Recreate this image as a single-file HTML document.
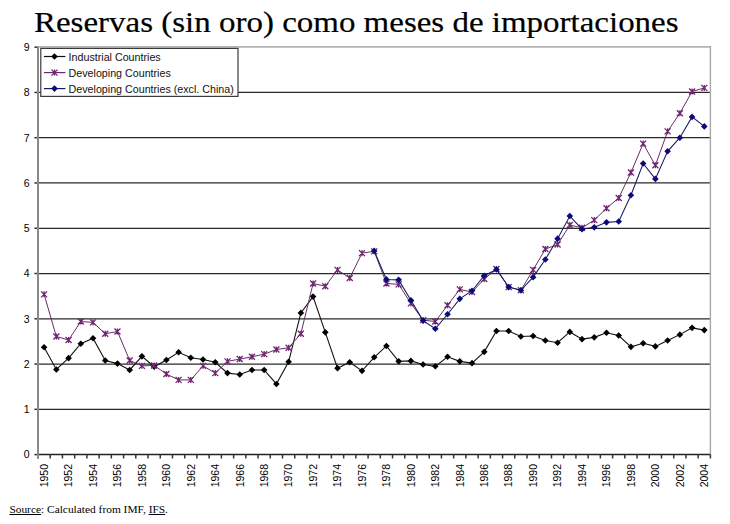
<!DOCTYPE html>
<html><head><meta charset="utf-8">
<style>
html,body{margin:0;padding:0;background:#fff;}
body{width:730px;height:524px;overflow:hidden;position:relative;}
svg{position:absolute;left:0;top:0;}
.ax{font-family:"Liberation Sans",sans-serif;font-size:10.5px;fill:#000;}
.lg{font-family:"Liberation Sans",sans-serif;font-size:10.7px;fill:#111;}
.title{position:absolute;left:34.1px;top:1.6px;font-family:"Liberation Serif",serif;font-size:30px;line-height:40px;color:#000;white-space:nowrap;transform-origin:0 0;transform:scaleX(1.099);-webkit-text-stroke:0.2px #000;}
.src{position:absolute;left:9.4px;top:500.7px;font-family:"Liberation Serif",serif;font-size:11.4px;line-height:16px;color:#000;white-space:nowrap;}
.src u{text-decoration:underline;}
</style></head><body>
<div class="title">Reservas (sin oro) como meses de importaciones</div>
<svg width="730" height="524" viewBox="0 0 730 524">
<line x1="38" y1="409.33" x2="710.4" y2="409.33" stroke="#2a2a2a" stroke-width="1.25"/>
<line x1="38" y1="364.06" x2="710.4" y2="364.06" stroke="#2a2a2a" stroke-width="1.25"/>
<line x1="38" y1="318.79" x2="710.4" y2="318.79" stroke="#2a2a2a" stroke-width="1.25"/>
<line x1="38" y1="273.52" x2="710.4" y2="273.52" stroke="#2a2a2a" stroke-width="1.25"/>
<line x1="38" y1="228.25" x2="710.4" y2="228.25" stroke="#2a2a2a" stroke-width="1.25"/>
<line x1="38" y1="182.98" x2="710.4" y2="182.98" stroke="#2a2a2a" stroke-width="1.25"/>
<line x1="38" y1="137.71" x2="710.4" y2="137.71" stroke="#2a2a2a" stroke-width="1.25"/>
<line x1="38" y1="92.44" x2="710.4" y2="92.44" stroke="#2a2a2a" stroke-width="1.25"/>
<line x1="38" y1="46.8" x2="710.4" y2="46.8" stroke="#b4b4b4" stroke-width="1.7"/>
<line x1="710.4" y1="46" x2="710.4" y2="454.6" stroke="#a8a8a8" stroke-width="1.4"/>
<line x1="34.4" y1="454.6" x2="38" y2="454.6" stroke="#333" stroke-width="1.5"/>
<line x1="34.4" y1="409.33" x2="38" y2="409.33" stroke="#333" stroke-width="1.5"/>
<line x1="34.4" y1="364.06" x2="38" y2="364.06" stroke="#333" stroke-width="1.5"/>
<line x1="34.4" y1="318.79" x2="38" y2="318.79" stroke="#333" stroke-width="1.5"/>
<line x1="34.4" y1="273.52" x2="38" y2="273.52" stroke="#333" stroke-width="1.5"/>
<line x1="34.4" y1="228.25" x2="38" y2="228.25" stroke="#333" stroke-width="1.5"/>
<line x1="34.4" y1="182.98" x2="38" y2="182.98" stroke="#333" stroke-width="1.5"/>
<line x1="34.4" y1="137.71" x2="38" y2="137.71" stroke="#333" stroke-width="1.5"/>
<line x1="34.4" y1="92.44" x2="38" y2="92.44" stroke="#333" stroke-width="1.5"/>
<line x1="34.4" y1="47.17" x2="38" y2="47.17" stroke="#333" stroke-width="1.5"/>
<line x1="38" y1="454.6" x2="710.4" y2="454.6" stroke="#222" stroke-width="1.5"/>
<line x1="38" y1="454.6" x2="38" y2="458.5" stroke="#333" stroke-width="1.5"/>
<line x1="50.23" y1="454.6" x2="50.23" y2="458.5" stroke="#333" stroke-width="1.5"/>
<line x1="62.45" y1="454.6" x2="62.45" y2="458.5" stroke="#333" stroke-width="1.5"/>
<line x1="74.68" y1="454.6" x2="74.68" y2="458.5" stroke="#333" stroke-width="1.5"/>
<line x1="86.9" y1="454.6" x2="86.9" y2="458.5" stroke="#333" stroke-width="1.5"/>
<line x1="99.13" y1="454.6" x2="99.13" y2="458.5" stroke="#333" stroke-width="1.5"/>
<line x1="111.35" y1="454.6" x2="111.35" y2="458.5" stroke="#333" stroke-width="1.5"/>
<line x1="123.58" y1="454.6" x2="123.58" y2="458.5" stroke="#333" stroke-width="1.5"/>
<line x1="135.8" y1="454.6" x2="135.8" y2="458.5" stroke="#333" stroke-width="1.5"/>
<line x1="148.03" y1="454.6" x2="148.03" y2="458.5" stroke="#333" stroke-width="1.5"/>
<line x1="160.25" y1="454.6" x2="160.25" y2="458.5" stroke="#333" stroke-width="1.5"/>
<line x1="172.48" y1="454.6" x2="172.48" y2="458.5" stroke="#333" stroke-width="1.5"/>
<line x1="184.71" y1="454.6" x2="184.71" y2="458.5" stroke="#333" stroke-width="1.5"/>
<line x1="196.93" y1="454.6" x2="196.93" y2="458.5" stroke="#333" stroke-width="1.5"/>
<line x1="209.16" y1="454.6" x2="209.16" y2="458.5" stroke="#333" stroke-width="1.5"/>
<line x1="221.38" y1="454.6" x2="221.38" y2="458.5" stroke="#333" stroke-width="1.5"/>
<line x1="233.61" y1="454.6" x2="233.61" y2="458.5" stroke="#333" stroke-width="1.5"/>
<line x1="245.83" y1="454.6" x2="245.83" y2="458.5" stroke="#333" stroke-width="1.5"/>
<line x1="258.06" y1="454.6" x2="258.06" y2="458.5" stroke="#333" stroke-width="1.5"/>
<line x1="270.28" y1="454.6" x2="270.28" y2="458.5" stroke="#333" stroke-width="1.5"/>
<line x1="282.51" y1="454.6" x2="282.51" y2="458.5" stroke="#333" stroke-width="1.5"/>
<line x1="294.73" y1="454.6" x2="294.73" y2="458.5" stroke="#333" stroke-width="1.5"/>
<line x1="306.96" y1="454.6" x2="306.96" y2="458.5" stroke="#333" stroke-width="1.5"/>
<line x1="319.19" y1="454.6" x2="319.19" y2="458.5" stroke="#333" stroke-width="1.5"/>
<line x1="331.41" y1="454.6" x2="331.41" y2="458.5" stroke="#333" stroke-width="1.5"/>
<line x1="343.64" y1="454.6" x2="343.64" y2="458.5" stroke="#333" stroke-width="1.5"/>
<line x1="355.86" y1="454.6" x2="355.86" y2="458.5" stroke="#333" stroke-width="1.5"/>
<line x1="368.09" y1="454.6" x2="368.09" y2="458.5" stroke="#333" stroke-width="1.5"/>
<line x1="380.31" y1="454.6" x2="380.31" y2="458.5" stroke="#333" stroke-width="1.5"/>
<line x1="392.54" y1="454.6" x2="392.54" y2="458.5" stroke="#333" stroke-width="1.5"/>
<line x1="404.76" y1="454.6" x2="404.76" y2="458.5" stroke="#333" stroke-width="1.5"/>
<line x1="416.99" y1="454.6" x2="416.99" y2="458.5" stroke="#333" stroke-width="1.5"/>
<line x1="429.21" y1="454.6" x2="429.21" y2="458.5" stroke="#333" stroke-width="1.5"/>
<line x1="441.44" y1="454.6" x2="441.44" y2="458.5" stroke="#333" stroke-width="1.5"/>
<line x1="453.67" y1="454.6" x2="453.67" y2="458.5" stroke="#333" stroke-width="1.5"/>
<line x1="465.89" y1="454.6" x2="465.89" y2="458.5" stroke="#333" stroke-width="1.5"/>
<line x1="478.12" y1="454.6" x2="478.12" y2="458.5" stroke="#333" stroke-width="1.5"/>
<line x1="490.34" y1="454.6" x2="490.34" y2="458.5" stroke="#333" stroke-width="1.5"/>
<line x1="502.57" y1="454.6" x2="502.57" y2="458.5" stroke="#333" stroke-width="1.5"/>
<line x1="514.79" y1="454.6" x2="514.79" y2="458.5" stroke="#333" stroke-width="1.5"/>
<line x1="527.02" y1="454.6" x2="527.02" y2="458.5" stroke="#333" stroke-width="1.5"/>
<line x1="539.24" y1="454.6" x2="539.24" y2="458.5" stroke="#333" stroke-width="1.5"/>
<line x1="551.47" y1="454.6" x2="551.47" y2="458.5" stroke="#333" stroke-width="1.5"/>
<line x1="563.69" y1="454.6" x2="563.69" y2="458.5" stroke="#333" stroke-width="1.5"/>
<line x1="575.92" y1="454.6" x2="575.92" y2="458.5" stroke="#333" stroke-width="1.5"/>
<line x1="588.15" y1="454.6" x2="588.15" y2="458.5" stroke="#333" stroke-width="1.5"/>
<line x1="600.37" y1="454.6" x2="600.37" y2="458.5" stroke="#333" stroke-width="1.5"/>
<line x1="612.6" y1="454.6" x2="612.6" y2="458.5" stroke="#333" stroke-width="1.5"/>
<line x1="624.82" y1="454.6" x2="624.82" y2="458.5" stroke="#333" stroke-width="1.5"/>
<line x1="637.05" y1="454.6" x2="637.05" y2="458.5" stroke="#333" stroke-width="1.5"/>
<line x1="649.27" y1="454.6" x2="649.27" y2="458.5" stroke="#333" stroke-width="1.5"/>
<line x1="661.5" y1="454.6" x2="661.5" y2="458.5" stroke="#333" stroke-width="1.5"/>
<line x1="673.72" y1="454.6" x2="673.72" y2="458.5" stroke="#333" stroke-width="1.5"/>
<line x1="685.95" y1="454.6" x2="685.95" y2="458.5" stroke="#333" stroke-width="1.5"/>
<line x1="698.17" y1="454.6" x2="698.17" y2="458.5" stroke="#333" stroke-width="1.5"/>
<line x1="710.4" y1="454.6" x2="710.4" y2="458.5" stroke="#333" stroke-width="1.5"/>
<line x1="38" y1="47.17" x2="38" y2="458.5" stroke="#8a8a8a" stroke-width="2"/>
<text x="29.5" y="458.4" text-anchor="end" class="ax">0</text>
<text x="29.5" y="413.13" text-anchor="end" class="ax">1</text>
<text x="29.5" y="367.86" text-anchor="end" class="ax">2</text>
<text x="29.5" y="322.59" text-anchor="end" class="ax">3</text>
<text x="29.5" y="277.32" text-anchor="end" class="ax">4</text>
<text x="29.5" y="232.05" text-anchor="end" class="ax">5</text>
<text x="29.5" y="186.78" text-anchor="end" class="ax">6</text>
<text x="29.5" y="141.51" text-anchor="end" class="ax">7</text>
<text x="29.5" y="96.24" text-anchor="end" class="ax">8</text>
<text x="29.5" y="50.97" text-anchor="end" class="ax">9</text>
<text transform="translate(47.91,464) rotate(-90)" text-anchor="end" class="ax">1950</text>
<text transform="translate(72.36,464) rotate(-90)" text-anchor="end" class="ax">1952</text>
<text transform="translate(96.81,464) rotate(-90)" text-anchor="end" class="ax">1954</text>
<text transform="translate(121.27,464) rotate(-90)" text-anchor="end" class="ax">1956</text>
<text transform="translate(145.72,464) rotate(-90)" text-anchor="end" class="ax">1958</text>
<text transform="translate(170.17,464) rotate(-90)" text-anchor="end" class="ax">1960</text>
<text transform="translate(194.62,464) rotate(-90)" text-anchor="end" class="ax">1962</text>
<text transform="translate(219.07,464) rotate(-90)" text-anchor="end" class="ax">1964</text>
<text transform="translate(243.52,464) rotate(-90)" text-anchor="end" class="ax">1966</text>
<text transform="translate(267.97,464) rotate(-90)" text-anchor="end" class="ax">1968</text>
<text transform="translate(292.42,464) rotate(-90)" text-anchor="end" class="ax">1970</text>
<text transform="translate(316.87,464) rotate(-90)" text-anchor="end" class="ax">1972</text>
<text transform="translate(341.32,464) rotate(-90)" text-anchor="end" class="ax">1974</text>
<text transform="translate(365.77,464) rotate(-90)" text-anchor="end" class="ax">1976</text>
<text transform="translate(390.23,464) rotate(-90)" text-anchor="end" class="ax">1978</text>
<text transform="translate(414.68,464) rotate(-90)" text-anchor="end" class="ax">1980</text>
<text transform="translate(439.13,464) rotate(-90)" text-anchor="end" class="ax">1982</text>
<text transform="translate(463.58,464) rotate(-90)" text-anchor="end" class="ax">1984</text>
<text transform="translate(488.03,464) rotate(-90)" text-anchor="end" class="ax">1986</text>
<text transform="translate(512.48,464) rotate(-90)" text-anchor="end" class="ax">1988</text>
<text transform="translate(536.93,464) rotate(-90)" text-anchor="end" class="ax">1990</text>
<text transform="translate(561.38,464) rotate(-90)" text-anchor="end" class="ax">1992</text>
<text transform="translate(585.83,464) rotate(-90)" text-anchor="end" class="ax">1994</text>
<text transform="translate(610.28,464) rotate(-90)" text-anchor="end" class="ax">1996</text>
<text transform="translate(634.73,464) rotate(-90)" text-anchor="end" class="ax">1998</text>
<text transform="translate(659.19,464) rotate(-90)" text-anchor="end" class="ax">2000</text>
<text transform="translate(683.64,464) rotate(-90)" text-anchor="end" class="ax">2002</text>
<text transform="translate(708.09,464) rotate(-90)" text-anchor="end" class="ax">2004</text>
<polyline points="44.11,347.31 56.34,369.49 68.56,358.17 80.79,343.69 93.01,338.26 105.24,360.44 117.47,363.61 129.69,369.95 141.92,356.36 154.14,366.78 166.37,359.99 178.59,352.29 190.82,357.72 203.04,359.53 215.27,362.25 227.49,373.11 239.72,374.47 251.95,369.95 264.17,369.95 276.4,383.98 288.62,361.8 300.85,312.9 313.07,296.61 325.3,332.37 337.52,368.13 349.75,362.25 361.97,370.85 374.2,357.27 386.43,345.95 398.65,361.34 410.88,360.89 423.1,364.51 435.33,366.32 447.55,356.82 459.78,361.34 472,363.15 484.23,351.84 496.45,331.01 508.68,331.01 520.91,336.45 533.13,335.99 545.36,340.52 557.58,342.78 569.81,331.92 582.03,339.16 594.26,337.35 606.48,332.82 618.71,335.54 630.93,346.86 643.16,343.24 655.39,346.4 667.61,340.52 679.84,334.63 692.06,327.84 704.29,330.11" fill="none" stroke="#111" stroke-width="1.1"/>
<path d="M44.11 344.01L47.41 347.31L44.11 350.61L40.81 347.31Z" fill="#000"/>
<path d="M56.34 366.19L59.64 369.49L56.34 372.79L53.04 369.49Z" fill="#000"/>
<path d="M68.56 354.87L71.86 358.17L68.56 361.47L65.26 358.17Z" fill="#000"/>
<path d="M80.79 340.39L84.09 343.69L80.79 346.99L77.49 343.69Z" fill="#000"/>
<path d="M93.01 334.96L96.31 338.26L93.01 341.56L89.71 338.26Z" fill="#000"/>
<path d="M105.24 357.14L108.54 360.44L105.24 363.74L101.94 360.44Z" fill="#000"/>
<path d="M117.47 360.31L120.77 363.61L117.47 366.91L114.17 363.61Z" fill="#000"/>
<path d="M129.69 366.65L132.99 369.95L129.69 373.25L126.39 369.95Z" fill="#000"/>
<path d="M141.92 353.06L145.22 356.36L141.92 359.66L138.62 356.36Z" fill="#000"/>
<path d="M154.14 363.48L157.44 366.78L154.14 370.08L150.84 366.78Z" fill="#000"/>
<path d="M166.37 356.69L169.67 359.99L166.37 363.29L163.07 359.99Z" fill="#000"/>
<path d="M178.59 348.99L181.89 352.29L178.59 355.59L175.29 352.29Z" fill="#000"/>
<path d="M190.82 354.42L194.12 357.72L190.82 361.02L187.52 357.72Z" fill="#000"/>
<path d="M203.04 356.23L206.34 359.53L203.04 362.83L199.74 359.53Z" fill="#000"/>
<path d="M215.27 358.95L218.57 362.25L215.27 365.55L211.97 362.25Z" fill="#000"/>
<path d="M227.49 369.81L230.79 373.11L227.49 376.41L224.19 373.11Z" fill="#000"/>
<path d="M239.72 371.17L243.02 374.47L239.72 377.77L236.42 374.47Z" fill="#000"/>
<path d="M251.95 366.65L255.25 369.95L251.95 373.25L248.65 369.95Z" fill="#000"/>
<path d="M264.17 366.65L267.47 369.95L264.17 373.25L260.87 369.95Z" fill="#000"/>
<path d="M276.4 380.68L279.7 383.98L276.4 387.28L273.1 383.98Z" fill="#000"/>
<path d="M288.62 358.5L291.92 361.8L288.62 365.1L285.32 361.8Z" fill="#000"/>
<path d="M300.85 309.6L304.15 312.9L300.85 316.2L297.55 312.9Z" fill="#000"/>
<path d="M313.07 293.31L316.37 296.61L313.07 299.91L309.77 296.61Z" fill="#000"/>
<path d="M325.3 329.07L328.6 332.37L325.3 335.67L322 332.37Z" fill="#000"/>
<path d="M337.52 364.83L340.82 368.13L337.52 371.43L334.22 368.13Z" fill="#000"/>
<path d="M349.75 358.95L353.05 362.25L349.75 365.55L346.45 362.25Z" fill="#000"/>
<path d="M361.97 367.55L365.27 370.85L361.97 374.15L358.67 370.85Z" fill="#000"/>
<path d="M374.2 353.97L377.5 357.27L374.2 360.57L370.9 357.27Z" fill="#000"/>
<path d="M386.43 342.65L389.73 345.95L386.43 349.25L383.13 345.95Z" fill="#000"/>
<path d="M398.65 358.04L401.95 361.34L398.65 364.64L395.35 361.34Z" fill="#000"/>
<path d="M410.88 357.59L414.18 360.89L410.88 364.19L407.58 360.89Z" fill="#000"/>
<path d="M423.1 361.21L426.4 364.51L423.1 367.81L419.8 364.51Z" fill="#000"/>
<path d="M435.33 363.02L438.63 366.32L435.33 369.62L432.03 366.32Z" fill="#000"/>
<path d="M447.55 353.52L450.85 356.82L447.55 360.12L444.25 356.82Z" fill="#000"/>
<path d="M459.78 358.04L463.08 361.34L459.78 364.64L456.48 361.34Z" fill="#000"/>
<path d="M472 359.85L475.3 363.15L472 366.45L468.7 363.15Z" fill="#000"/>
<path d="M484.23 348.54L487.53 351.84L484.23 355.14L480.93 351.84Z" fill="#000"/>
<path d="M496.45 327.71L499.75 331.01L496.45 334.31L493.15 331.01Z" fill="#000"/>
<path d="M508.68 327.71L511.98 331.01L508.68 334.31L505.38 331.01Z" fill="#000"/>
<path d="M520.91 333.15L524.21 336.45L520.91 339.75L517.61 336.45Z" fill="#000"/>
<path d="M533.13 332.69L536.43 335.99L533.13 339.29L529.83 335.99Z" fill="#000"/>
<path d="M545.36 337.22L548.66 340.52L545.36 343.82L542.06 340.52Z" fill="#000"/>
<path d="M557.58 339.48L560.88 342.78L557.58 346.08L554.28 342.78Z" fill="#000"/>
<path d="M569.81 328.62L573.11 331.92L569.81 335.22L566.51 331.92Z" fill="#000"/>
<path d="M582.03 335.86L585.33 339.16L582.03 342.46L578.73 339.16Z" fill="#000"/>
<path d="M594.26 334.05L597.56 337.35L594.26 340.65L590.96 337.35Z" fill="#000"/>
<path d="M606.48 329.52L609.78 332.82L606.48 336.12L603.18 332.82Z" fill="#000"/>
<path d="M618.71 332.24L622.01 335.54L618.71 338.84L615.41 335.54Z" fill="#000"/>
<path d="M630.93 343.56L634.23 346.86L630.93 350.16L627.63 346.86Z" fill="#000"/>
<path d="M643.16 339.94L646.46 343.24L643.16 346.54L639.86 343.24Z" fill="#000"/>
<path d="M655.39 343.1L658.69 346.4L655.39 349.7L652.09 346.4Z" fill="#000"/>
<path d="M667.61 337.22L670.91 340.52L667.61 343.82L664.31 340.52Z" fill="#000"/>
<path d="M679.84 331.33L683.14 334.63L679.84 337.93L676.54 334.63Z" fill="#000"/>
<path d="M692.06 324.54L695.36 327.84L692.06 331.14L688.76 327.84Z" fill="#000"/>
<path d="M704.29 326.81L707.59 330.11L704.29 333.41L700.99 330.11Z" fill="#000"/>
<polyline points="44.11,294.34 56.34,336.45 68.56,340.07 80.79,321.51 93.01,322.41 105.24,333.73 117.47,331.47 129.69,360.44 141.92,365.87 154.14,365.42 166.37,374.02 178.59,379.9 190.82,379.9 203.04,365.87 215.27,373.11 227.49,361.34 239.72,359.08 251.95,356.82 264.17,354.1 276.4,349.57 288.62,347.76 300.85,333.73 313.07,283.48 325.3,286.2 337.52,269.9 349.75,278.05 361.97,253.15 374.2,251.34 386.43,283.48 398.65,284.38 410.88,303.4 423.1,320.15 435.33,321.51 447.55,305.21 459.78,289.36 472,292.08 484.23,278.95 496.45,268.99 508.68,287.1 520.91,290.27 533.13,269.9 545.36,249.07 557.58,244.55 569.81,225.08 582.03,227.8 594.26,220.1 606.48,208.33 618.71,197.92 630.93,172.57 643.16,143.6 655.39,165.32 667.61,131.37 679.84,113.26 692.06,91.53 704.29,87.91" fill="none" stroke="#6a2c6b" stroke-width="1"/>
<path d="M41.11 291.34L47.11 297.34M47.11 291.34L41.11 297.34M44.11 291.34L44.11 297.34" stroke="#6f2470" stroke-width="1.3" fill="none"/>
<path d="M53.34 333.45L59.34 339.45M59.34 333.45L53.34 339.45M56.34 333.45L56.34 339.45" stroke="#6f2470" stroke-width="1.3" fill="none"/>
<path d="M65.56 337.07L71.56 343.07M71.56 337.07L65.56 343.07M68.56 337.07L68.56 343.07" stroke="#6f2470" stroke-width="1.3" fill="none"/>
<path d="M77.79 318.51L83.79 324.51M83.79 318.51L77.79 324.51M80.79 318.51L80.79 324.51" stroke="#6f2470" stroke-width="1.3" fill="none"/>
<path d="M90.01 319.41L96.01 325.41M96.01 319.41L90.01 325.41M93.01 319.41L93.01 325.41" stroke="#6f2470" stroke-width="1.3" fill="none"/>
<path d="M102.24 330.73L108.24 336.73M108.24 330.73L102.24 336.73M105.24 330.73L105.24 336.73" stroke="#6f2470" stroke-width="1.3" fill="none"/>
<path d="M114.47 328.47L120.47 334.47M120.47 328.47L114.47 334.47M117.47 328.47L117.47 334.47" stroke="#6f2470" stroke-width="1.3" fill="none"/>
<path d="M126.69 357.44L132.69 363.44M132.69 357.44L126.69 363.44M129.69 357.44L129.69 363.44" stroke="#6f2470" stroke-width="1.3" fill="none"/>
<path d="M138.92 362.87L144.92 368.87M144.92 362.87L138.92 368.87M141.92 362.87L141.92 368.87" stroke="#6f2470" stroke-width="1.3" fill="none"/>
<path d="M151.14 362.42L157.14 368.42M157.14 362.42L151.14 368.42M154.14 362.42L154.14 368.42" stroke="#6f2470" stroke-width="1.3" fill="none"/>
<path d="M163.37 371.02L169.37 377.02M169.37 371.02L163.37 377.02M166.37 371.02L166.37 377.02" stroke="#6f2470" stroke-width="1.3" fill="none"/>
<path d="M175.59 376.9L181.59 382.9M181.59 376.9L175.59 382.9M178.59 376.9L178.59 382.9" stroke="#6f2470" stroke-width="1.3" fill="none"/>
<path d="M187.82 376.9L193.82 382.9M193.82 376.9L187.82 382.9M190.82 376.9L190.82 382.9" stroke="#6f2470" stroke-width="1.3" fill="none"/>
<path d="M200.04 362.87L206.04 368.87M206.04 362.87L200.04 368.87M203.04 362.87L203.04 368.87" stroke="#6f2470" stroke-width="1.3" fill="none"/>
<path d="M212.27 370.11L218.27 376.11M218.27 370.11L212.27 376.11M215.27 370.11L215.27 376.11" stroke="#6f2470" stroke-width="1.3" fill="none"/>
<path d="M224.49 358.34L230.49 364.34M230.49 358.34L224.49 364.34M227.49 358.34L227.49 364.34" stroke="#6f2470" stroke-width="1.3" fill="none"/>
<path d="M236.72 356.08L242.72 362.08M242.72 356.08L236.72 362.08M239.72 356.08L239.72 362.08" stroke="#6f2470" stroke-width="1.3" fill="none"/>
<path d="M248.95 353.82L254.95 359.82M254.95 353.82L248.95 359.82M251.95 353.82L251.95 359.82" stroke="#6f2470" stroke-width="1.3" fill="none"/>
<path d="M261.17 351.1L267.17 357.1M267.17 351.1L261.17 357.1M264.17 351.1L264.17 357.1" stroke="#6f2470" stroke-width="1.3" fill="none"/>
<path d="M273.4 346.57L279.4 352.57M279.4 346.57L273.4 352.57M276.4 346.57L276.4 352.57" stroke="#6f2470" stroke-width="1.3" fill="none"/>
<path d="M285.62 344.76L291.62 350.76M291.62 344.76L285.62 350.76M288.62 344.76L288.62 350.76" stroke="#6f2470" stroke-width="1.3" fill="none"/>
<path d="M297.85 330.73L303.85 336.73M303.85 330.73L297.85 336.73M300.85 330.73L300.85 336.73" stroke="#6f2470" stroke-width="1.3" fill="none"/>
<path d="M310.07 280.48L316.07 286.48M316.07 280.48L310.07 286.48M313.07 280.48L313.07 286.48" stroke="#6f2470" stroke-width="1.3" fill="none"/>
<path d="M322.3 283.2L328.3 289.2M328.3 283.2L322.3 289.2M325.3 283.2L325.3 289.2" stroke="#6f2470" stroke-width="1.3" fill="none"/>
<path d="M334.52 266.9L340.52 272.9M340.52 266.9L334.52 272.9M337.52 266.9L337.52 272.9" stroke="#6f2470" stroke-width="1.3" fill="none"/>
<path d="M346.75 275.05L352.75 281.05M352.75 275.05L346.75 281.05M349.75 275.05L349.75 281.05" stroke="#6f2470" stroke-width="1.3" fill="none"/>
<path d="M358.97 250.15L364.97 256.15M364.97 250.15L358.97 256.15M361.97 250.15L361.97 256.15" stroke="#6f2470" stroke-width="1.3" fill="none"/>
<path d="M371.2 248.34L377.2 254.34M377.2 248.34L371.2 254.34M374.2 248.34L374.2 254.34" stroke="#6f2470" stroke-width="1.3" fill="none"/>
<path d="M383.43 280.48L389.43 286.48M389.43 280.48L383.43 286.48M386.43 280.48L386.43 286.48" stroke="#6f2470" stroke-width="1.3" fill="none"/>
<path d="M395.65 281.38L401.65 287.38M401.65 281.38L395.65 287.38M398.65 281.38L398.65 287.38" stroke="#6f2470" stroke-width="1.3" fill="none"/>
<path d="M407.88 300.4L413.88 306.4M413.88 300.4L407.88 306.4M410.88 300.4L410.88 306.4" stroke="#6f2470" stroke-width="1.3" fill="none"/>
<path d="M420.1 317.15L426.1 323.15M426.1 317.15L420.1 323.15M423.1 317.15L423.1 323.15" stroke="#6f2470" stroke-width="1.3" fill="none"/>
<path d="M432.33 318.51L438.33 324.51M438.33 318.51L432.33 324.51M435.33 318.51L435.33 324.51" stroke="#6f2470" stroke-width="1.3" fill="none"/>
<path d="M444.55 302.21L450.55 308.21M450.55 302.21L444.55 308.21M447.55 302.21L447.55 308.21" stroke="#6f2470" stroke-width="1.3" fill="none"/>
<path d="M456.78 286.36L462.78 292.36M462.78 286.36L456.78 292.36M459.78 286.36L459.78 292.36" stroke="#6f2470" stroke-width="1.3" fill="none"/>
<path d="M469 289.08L475 295.08M475 289.08L469 295.08M472 289.08L472 295.08" stroke="#6f2470" stroke-width="1.3" fill="none"/>
<path d="M481.23 275.95L487.23 281.95M487.23 275.95L481.23 281.95M484.23 275.95L484.23 281.95" stroke="#6f2470" stroke-width="1.3" fill="none"/>
<path d="M493.45 265.99L499.45 271.99M499.45 265.99L493.45 271.99M496.45 265.99L496.45 271.99" stroke="#6f2470" stroke-width="1.3" fill="none"/>
<path d="M505.68 284.1L511.68 290.1M511.68 284.1L505.68 290.1M508.68 284.1L508.68 290.1" stroke="#6f2470" stroke-width="1.3" fill="none"/>
<path d="M517.91 287.27L523.91 293.27M523.91 287.27L517.91 293.27M520.91 287.27L520.91 293.27" stroke="#6f2470" stroke-width="1.3" fill="none"/>
<path d="M530.13 266.9L536.13 272.9M536.13 266.9L530.13 272.9M533.13 266.9L533.13 272.9" stroke="#6f2470" stroke-width="1.3" fill="none"/>
<path d="M542.36 246.07L548.36 252.07M548.36 246.07L542.36 252.07M545.36 246.07L545.36 252.07" stroke="#6f2470" stroke-width="1.3" fill="none"/>
<path d="M554.58 241.55L560.58 247.55M560.58 241.55L554.58 247.55M557.58 241.55L557.58 247.55" stroke="#6f2470" stroke-width="1.3" fill="none"/>
<path d="M566.81 222.08L572.81 228.08M572.81 222.08L566.81 228.08M569.81 222.08L569.81 228.08" stroke="#6f2470" stroke-width="1.3" fill="none"/>
<path d="M579.03 224.8L585.03 230.8M585.03 224.8L579.03 230.8M582.03 224.8L582.03 230.8" stroke="#6f2470" stroke-width="1.3" fill="none"/>
<path d="M591.26 217.1L597.26 223.1M597.26 217.1L591.26 223.1M594.26 217.1L594.26 223.1" stroke="#6f2470" stroke-width="1.3" fill="none"/>
<path d="M603.48 205.33L609.48 211.33M609.48 205.33L603.48 211.33M606.48 205.33L606.48 211.33" stroke="#6f2470" stroke-width="1.3" fill="none"/>
<path d="M615.71 194.92L621.71 200.92M621.71 194.92L615.71 200.92M618.71 194.92L618.71 200.92" stroke="#6f2470" stroke-width="1.3" fill="none"/>
<path d="M627.93 169.57L633.93 175.57M633.93 169.57L627.93 175.57M630.93 169.57L630.93 175.57" stroke="#6f2470" stroke-width="1.3" fill="none"/>
<path d="M640.16 140.6L646.16 146.6M646.16 140.6L640.16 146.6M643.16 140.6L643.16 146.6" stroke="#6f2470" stroke-width="1.3" fill="none"/>
<path d="M652.39 162.32L658.39 168.32M658.39 162.32L652.39 168.32M655.39 162.32L655.39 168.32" stroke="#6f2470" stroke-width="1.3" fill="none"/>
<path d="M664.61 128.37L670.61 134.37M670.61 128.37L664.61 134.37M667.61 128.37L667.61 134.37" stroke="#6f2470" stroke-width="1.3" fill="none"/>
<path d="M676.84 110.26L682.84 116.26M682.84 110.26L676.84 116.26M679.84 110.26L679.84 116.26" stroke="#6f2470" stroke-width="1.3" fill="none"/>
<path d="M689.06 88.53L695.06 94.53M695.06 88.53L689.06 94.53M692.06 88.53L692.06 94.53" stroke="#6f2470" stroke-width="1.3" fill="none"/>
<path d="M701.29 84.91L707.29 90.91M707.29 84.91L701.29 90.91M704.29 84.91L704.29 90.91" stroke="#6f2470" stroke-width="1.3" fill="none"/>
<polyline points="374.2,250.89 386.43,279.41 398.65,279.86 410.88,300.23 423.1,320.6 435.33,328.75 447.55,314.26 459.78,298.87 472,290.72 484.23,275.78 496.45,269.45 508.68,287.1 520.91,290.27 533.13,277.14 545.36,259.49 557.58,238.66 569.81,216.03 582.03,229.16 594.26,227.34 606.48,222.36 618.71,221.46 630.93,195.2 643.16,163.51 655.39,178.91 667.61,151.29 679.84,137.71 692.06,116.89 704.29,126.39" fill="none" stroke="#1a1a62" stroke-width="1.05"/>
<path d="M374.2 247.59L377.5 250.89L374.2 254.19L370.9 250.89Z" fill="#0a0a78"/>
<path d="M386.43 276.11L389.73 279.41L386.43 282.71L383.13 279.41Z" fill="#0a0a78"/>
<path d="M398.65 276.56L401.95 279.86L398.65 283.16L395.35 279.86Z" fill="#0a0a78"/>
<path d="M410.88 296.93L414.18 300.23L410.88 303.53L407.58 300.23Z" fill="#0a0a78"/>
<path d="M423.1 317.3L426.4 320.6L423.1 323.9L419.8 320.6Z" fill="#0a0a78"/>
<path d="M435.33 325.45L438.63 328.75L435.33 332.05L432.03 328.75Z" fill="#0a0a78"/>
<path d="M447.55 310.96L450.85 314.26L447.55 317.56L444.25 314.26Z" fill="#0a0a78"/>
<path d="M459.78 295.57L463.08 298.87L459.78 302.17L456.48 298.87Z" fill="#0a0a78"/>
<path d="M472 287.42L475.3 290.72L472 294.02L468.7 290.72Z" fill="#0a0a78"/>
<path d="M484.23 272.48L487.53 275.78L484.23 279.08L480.93 275.78Z" fill="#0a0a78"/>
<path d="M496.45 266.15L499.75 269.45L496.45 272.75L493.15 269.45Z" fill="#0a0a78"/>
<path d="M508.68 283.8L511.98 287.1L508.68 290.4L505.38 287.1Z" fill="#0a0a78"/>
<path d="M520.91 286.97L524.21 290.27L520.91 293.57L517.61 290.27Z" fill="#0a0a78"/>
<path d="M533.13 273.84L536.43 277.14L533.13 280.44L529.83 277.14Z" fill="#0a0a78"/>
<path d="M545.36 256.19L548.66 259.49L545.36 262.79L542.06 259.49Z" fill="#0a0a78"/>
<path d="M557.58 235.36L560.88 238.66L557.58 241.96L554.28 238.66Z" fill="#0a0a78"/>
<path d="M569.81 212.73L573.11 216.03L569.81 219.33L566.51 216.03Z" fill="#0a0a78"/>
<path d="M582.03 225.86L585.33 229.16L582.03 232.46L578.73 229.16Z" fill="#0a0a78"/>
<path d="M594.26 224.04L597.56 227.34L594.26 230.64L590.96 227.34Z" fill="#0a0a78"/>
<path d="M606.48 219.06L609.78 222.36L606.48 225.66L603.18 222.36Z" fill="#0a0a78"/>
<path d="M618.71 218.16L622.01 221.46L618.71 224.76L615.41 221.46Z" fill="#0a0a78"/>
<path d="M630.93 191.9L634.23 195.2L630.93 198.5L627.63 195.2Z" fill="#0a0a78"/>
<path d="M643.16 160.21L646.46 163.51L643.16 166.81L639.86 163.51Z" fill="#0a0a78"/>
<path d="M655.39 175.61L658.69 178.91L655.39 182.21L652.09 178.91Z" fill="#0a0a78"/>
<path d="M667.61 147.99L670.91 151.29L667.61 154.59L664.31 151.29Z" fill="#0a0a78"/>
<path d="M679.84 134.41L683.14 137.71L679.84 141.01L676.54 137.71Z" fill="#0a0a78"/>
<path d="M692.06 113.59L695.36 116.89L692.06 120.19L688.76 116.89Z" fill="#0a0a78"/>
<path d="M704.29 123.09L707.59 126.39L704.29 129.69L700.99 126.39Z" fill="#0a0a78"/>
<rect x="40.8" y="48.4" width="197.2" height="48" fill="#fff" stroke="#3a3a3a" stroke-width="1.2"/>
<line x1="43.9" y1="56.5" x2="65.4" y2="56.5" stroke="#111" stroke-width="1.2"/>
<path d="M54.5 53.2L57.8 56.5L54.5 59.8L51.2 56.5Z" fill="#000"/>
<text x="68.6" y="61" class="lg">Industrial Countries</text>
<line x1="43.9" y1="72.6" x2="65.4" y2="72.6" stroke="#6a2c6b" stroke-width="1.2"/>
<path d="M51.5 69.6L57.5 75.6M57.5 69.6L51.5 75.6M54.5 69.6L54.5 75.6" stroke="#6f2470" stroke-width="1.3" fill="none"/>
<text x="68.6" y="76.8" class="lg">Developing Countries</text>
<line x1="43.9" y1="88.6" x2="65.4" y2="88.6" stroke="#1a1a62" stroke-width="1.2"/>
<path d="M54.5 85.3L57.8 88.6L54.5 91.9L51.2 88.6Z" fill="#0a0a78"/>
<text x="68.6" y="92.5" class="lg">Developing Countries (excl. China)</text>
</svg>
<div class="src"><u>Source</u>: Calculated from IMF, <u>IFS</u>.</div>
</body></html>
